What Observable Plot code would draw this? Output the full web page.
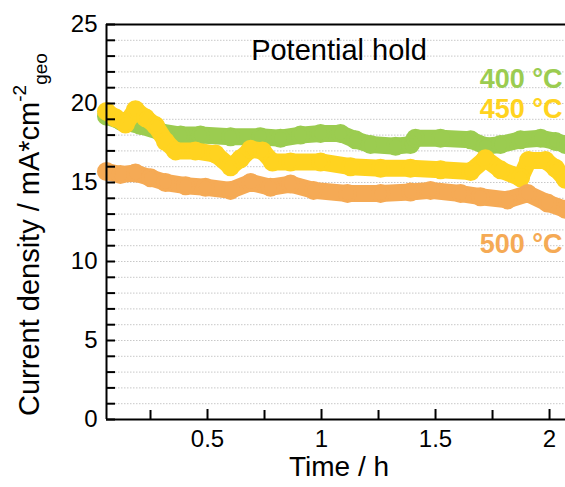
<!DOCTYPE html>
<html>
<head>
<meta charset="utf-8">
<script src="https://cdn.jsdelivr.net/npm/d3@7"></script>
<script src="https://cdn.jsdelivr.net/npm/@observablehq/plot@0.6"></script>
<style>
  html, body { margin: 0; padding: 0; background: #fff; }
  #chart svg { display: block; }
</style>
</head>
<body>
<div id="chart"></div>
<script>
// ---- data ----
const t400 = [0.057, 0.118, 0.206, 0.294, 0.382, 0.469, 0.601, 0.732, 0.820, 0.908, 0.996, 1.083, 1.149, 1.215, 1.325, 1.390, 1.412, 1.522, 1.654, 1.719, 1.785, 1.873, 1.961, 2.026, 2.070];
const j400 = [19.2, 18.9, 18.6, 18.2, 18.0, 18.0, 17.9, 17.9, 17.8, 18.0, 18.1, 18.1, 17.7, 17.4, 17.3, 17.4, 17.8, 17.8, 17.7, 17.3, 17.4, 17.7, 17.8, 17.6, 17.4];

const t450 = [0.057, 0.096, 0.140, 0.184, 0.228, 0.272, 0.316, 0.360, 0.447, 0.535, 0.601, 0.645, 0.689, 0.741, 0.785, 0.864, 0.996, 1.127, 1.259, 1.390, 1.522, 1.654, 1.719, 1.785, 1.873, 1.908, 1.982, 2.026, 2.070];
const j450 = [19.5, 19.1, 18.7, 19.6, 19.1, 18.6, 17.6, 17.0, 17.0, 16.8, 16.0, 16.5, 17.1, 17.0, 16.3, 16.3, 16.3, 16.0, 15.9, 15.9, 15.8, 15.7, 16.5, 15.8, 15.3, 16.4, 16.4, 15.9, 15.2];

const t500 = [0.057, 0.118, 0.184, 0.250, 0.316, 0.404, 0.491, 0.601, 0.689, 0.776, 0.864, 0.965, 1.114, 1.259, 1.390, 1.478, 1.610, 1.697, 1.816, 1.904, 1.991, 2.070];
const j500 = [15.7, 15.5, 15.6, 15.3, 15.0, 14.8, 14.7, 14.5, 15.0, 14.7, 14.9, 14.5, 14.3, 14.3, 14.4, 14.5, 14.3, 14.1, 13.9, 14.3, 13.7, 13.3];

const seriesNames = ["400 °C", "450 °C", "500 °C"];
const seriesColors = ["#9bcc50", "#ffd320", "#f5aa55"];

const xDomain = [0.057, 2.07];
const yDomain = [0, 25];
const xMajorTicks = [0.5, 1, 1.5, 2];
const xMinorTicks = [0.25, 0.75, 1.25, 1.75];
const yMajorTicks = [0, 5, 10, 15, 20, 25];
const yMinorTicks = d3.range(0, 26, 1);
const gridValues = d3.range(1, 25, 1);
const panelTitle = "Potential hold";
const xTitle = "Time / h";

// ---- build table ----
const rows = [];
[[t400, j400], [t450, j450], [t500, j500]].forEach(([ts, js], i) => {
  ts.forEach((t, k) => rows.push({series: seriesNames[i], t, j: js[k]}));
});
const byName = name => rows.filter(d => d.series === name);

const font = "'Liberation Sans', Arial, Helvetica, sans-serif";

const seriesMarks = [];
[0, 1, 2].forEach(i => {
  const data = byName(seriesNames[i]);
  seriesMarks.push(
    Plot.line(data, {x: "t", y: "j", stroke: seriesColors[i], strokeWidth: 17, strokeLinejoin: "round", strokeLinecap: "round"}),
    Plot.dot(data, {x: "t", y: "j", r: 8, stroke: seriesColors[i], strokeWidth: 3, fill: "none"})
  );
});

const chart = Plot.plot({
  width: 565,
  height: 487,
  marginLeft: 106,
  marginRight: 0,
  marginTop: 24,
  marginBottom: 68,
  style: {fontFamily: font, background: "#fff", color: "#000"},
  x: {domain: xDomain},
  y: {domain: yDomain},
  marks: [
    Plot.gridY(gridValues, {stroke: "#c8c8c8", strokeOpacity: 1, strokeWidth: 1, strokeDasharray: "1.5,1.5"}),
    ...seriesMarks,
    Plot.ruleY([yDomain[0]], {stroke: "#000", strokeWidth: 2}),
    Plot.ruleY([yDomain[1]], {stroke: "#000", strokeWidth: 2}),
    Plot.ruleX([xDomain[0]], {stroke: "#000", strokeWidth: 2}),
    Plot.axisY({ticks: yMajorTicks, tickSize: 0, tickPadding: 9, fontSize: 24, label: null}),
    Plot.axisY({ticks: yMinorTicks, tickSize: -9, strokeWidth: 2, tickFormat: () => "", label: null}),
    Plot.axisX({ticks: xMajorTicks, tickSize: 0, tickPadding: 10, fontSize: 24, label: null, tickFormat: d => String(d)}),
    Plot.axisX({ticks: xMajorTicks, tickSize: -10, strokeWidth: 2, tickFormat: () => "", label: null}),
    Plot.axisX({ticks: xMinorTicks, tickSize: -9, strokeWidth: 2, tickFormat: () => "", label: null}),
    Plot.text([panelTitle], {frameAnchor: "top", dx: 3, dy: 15, fontSize: 29, fill: "#000"}),
    Plot.text([seriesNames[0]], {frameAnchor: "top-right", textAnchor: "end", dx: -3, dy: 44, fontSize: 27, fontWeight: "bold", fill: seriesColors[0]}),
    Plot.text([seriesNames[1]], {frameAnchor: "top-right", textAnchor: "end", dx: -3, dy: 74, fontSize: 27, fontWeight: "bold", fill: seriesColors[1]}),
    Plot.text([seriesNames[2]], {frameAnchor: "top-right", textAnchor: "end", dx: -3, dy: 209, fontSize: 27, fontWeight: "bold", fill: seriesColors[2]}),
    Plot.text([xTitle], {frameAnchor: "bottom", dx: 3, dy: 56, fontSize: 28, fill: "#000"})
  ]
});

document.getElementById("chart").appendChild(chart);

// y-axis title with superscript / subscript
const svg = d3.select(chart);
const yt = svg.append("text")
  .attr("transform", "translate(39,416) rotate(-90)")
  .attr("text-anchor", "start")
  .attr("font-family", font)
  .attr("font-size", 29)
  .attr("fill", "#000");
yt.append("tspan").text("Current density / mA*cm");
yt.append("tspan").attr("font-size", 19).attr("dy", -13).text("-2");
yt.append("tspan").attr("font-size", 19).attr("dy", 21).text("geo");
</script>
</body>
</html>
